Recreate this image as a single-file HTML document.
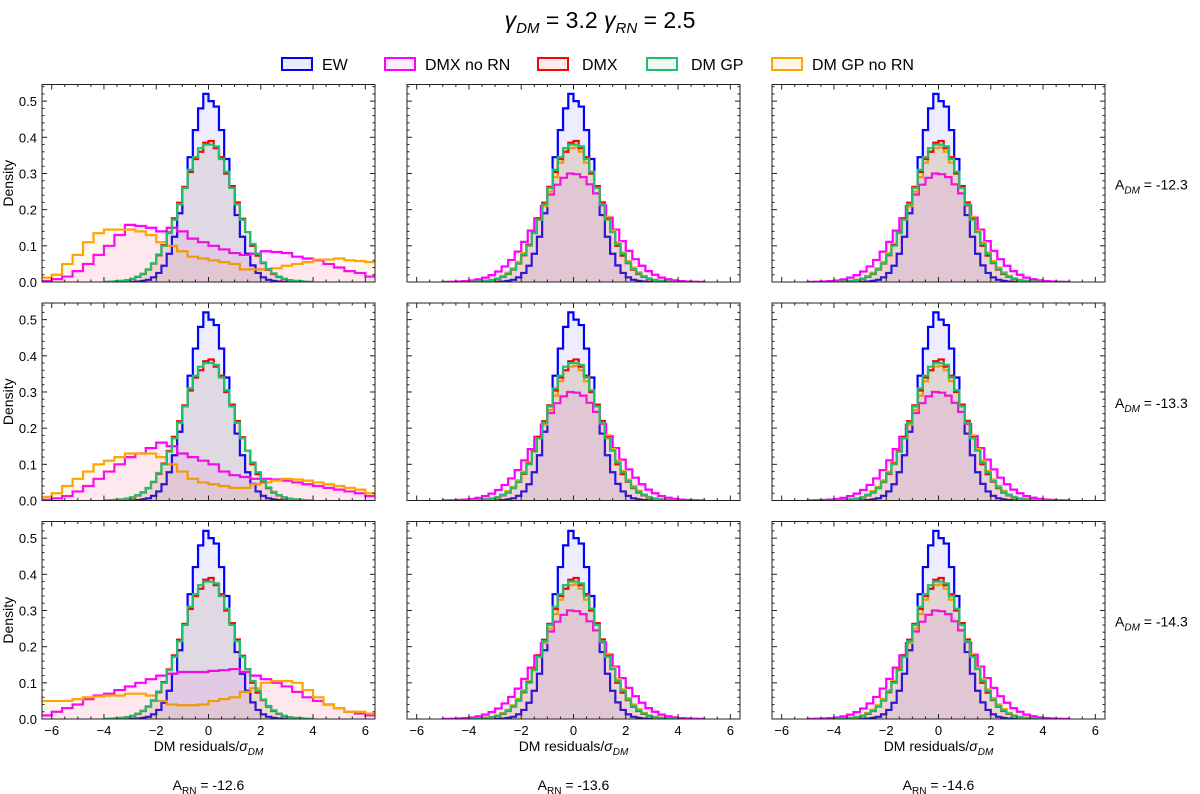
<!DOCTYPE html>
<html><head><meta charset="utf-8"><style>
body{margin:0;background:#fff;}
svg{display:block;font-family:"Liberation Sans","DejaVu Sans",sans-serif;}
</style></head><body>
<svg id="fig" width="1200" height="794" viewBox="0 0 1200 794" xmlns="http://www.w3.org/2000/svg">
<text x="600" y="28" text-anchor="middle" font-size="23"><tspan font-style="italic">γ</tspan><tspan font-size="15" dy="5" font-style="italic">DM</tspan><tspan dy="-5"> = 3.2  </tspan><tspan font-style="italic">γ</tspan><tspan font-size="15" dy="5" font-style="italic">RN</tspan><tspan dy="-5"> = 2.5</tspan></text>
<g id="legend"></g>
<g id="panels"></g>
</svg>
<script>
// ---- data ----
const seriesNames = ["EW","DMX no RN","DMX","DM GP","DM GP no RN"];
const seriesColors = ["#0000ff","#ff00ff","#ff0000","#1fbf6f","#ffa500"];
const rowLabels = ["-12.3","-13.3","-14.3"];
const colLabels = ["-12.6","-13.6","-14.6"];
const xTicks = [-6,-4,-2,0,2,4,6];
const yTicks = [0.0,0.1,0.2,0.3,0.4,0.5];
// EW: bins start -3, width 0.2
const ewStart = -3, ewWidth = 0.2;
const ewVals = [0,0.001,0.003,0.006,0.013,0.025,0.045,0.078,0.125,0.19,0.26,0.345,0.42,0.48,0.52,0.50,0.485,0.42,0.34,0.265,0.185,0.125,0.078,0.046,0.025,0.013,0.006,0.003,0.001,0];
// narrow gaussians: start -4, width 0.2
const gStart = -4, gWidth = 0.2;
const dmxVals = [0,0.001,0.0015,0.003,0.005,0.008,0.014,0.022,0.034,0.051,0.074,0.102,0.137,0.176,0.219,0.263,0.304,0.34,0.36,0.385,0.39,0.37,0.345,0.30,0.265,0.22,0.175,0.138,0.10,0.073,0.052,0.034,0.022,0.014,0.008,0.005,0.003,0.0015,0.001,0];
const dmgpVals = [0,0.001,0.002,0.003,0.005,0.009,0.015,0.023,0.035,0.052,0.076,0.10,0.135,0.172,0.215,0.26,0.31,0.345,0.37,0.38,0.38,0.375,0.34,0.305,0.26,0.215,0.172,0.138,0.105,0.078,0.054,0.036,0.024,0.015,0.009,0.005,0.003,0.002,0.001,0];
const gpnoVals = [0,0.001,0.002,0.004,0.006,0.010,0.017,0.026,0.038,0.056,0.08,0.105,0.138,0.172,0.21,0.25,0.29,0.33,0.36,0.37,0.372,0.36,0.33,0.30,0.26,0.22,0.18,0.142,0.11,0.082,0.058,0.04,0.027,0.017,0.010,0.006,0.004,0.002,0.001,0];
// wide magenta (central panels): start -5, width 0.25
const mStart = -5, mWidth = 0.25;
const magVals = [0.0003,0.0007,0.0014,0.0025,0.0043,0.0073,0.012,0.019,0.029,0.043,0.061,0.084,0.111,0.142,0.176,0.21,0.242,0.269,0.288,0.30,0.298,0.29,0.27,0.245,0.212,0.178,0.145,0.113,0.086,0.063,0.045,0.030,0.020,0.012,0.0075,0.0045,0.0026,0.0014,0.0007,0.0003];
// broad col-1 histograms: start -6.4, width 0.4
const bStart = -6.4, bWidth = 0.4;
const r1Mag = [.003,.008,.015,.03,.05,.075,.1,.13,.158,.155,.15,.14,.15,.14,.12,.11,.1,.09,.08,.075,.078,.085,.083,.08,.07,.065,.06,.05,.04,.03,.025,.015];
const r1Org = [.012,.02,.05,.075,.11,.135,.145,.145,.145,.14,.13,.11,.1,.085,.07,.065,.06,.055,.05,.035,.035,.035,.038,.045,.05,.055,.062,.062,.065,.06,.058,.055];
const r2Mag = [.002,.006,.012,.025,.04,.06,.08,.1,.12,.13,.145,.16,.15,.13,.12,.11,.1,.08,.07,.065,.06,.06,.058,.055,.05,.045,.04,.035,.03,.025,.02,.012];
const r2Org = [.01,.02,.04,.06,.08,.1,.11,.12,.13,.13,.13,.12,.1,.08,.06,.05,.045,.04,.035,.035,.045,.05,.055,.06,.058,.055,.05,.045,.04,.035,.03,.02];
const r3Mag = [.01,.02,.03,.04,.055,.065,.07,.08,.09,.1,.11,.12,.125,.13,.13,.13,.133,.135,.138,.13,.12,.11,.1,.09,.075,.06,.05,.04,.03,.02,.015,.01];
const r3Org = [.05,.05,.05,.055,.06,.062,.065,.065,.07,.07,.065,.05,.04,.038,.038,.04,.05,.055,.06,.075,.085,.1,.105,.105,.1,.08,.06,.04,.03,.02,.02,.015];

// ---- layout ----
const NS = "http://www.w3.org/2000/svg";
const colX = [42,407,772], pw = 333;
const rowY = [84.5,303,521.5], ph = 197.5;
const xmin=-6.37, xmax=6.37, ymin=0, ymax=0.546;
function el(tag, attrs, parent){const e=document.createElementNS(NS,tag);for(const k in attrs)e.setAttribute(k,attrs[k]);parent.appendChild(e);return e;}

// legend
const leg = document.getElementById('legend');
const legBox = [282,385,538,647,772];
const legTxt = [322,425,582,691,812];
seriesNames.forEach((n,i)=>{
  const g = el('g',{},leg);
  
  
  el('rect',{x:legBox[i],y:58,width:30,height:12,fill:seriesColors[i],'fill-opacity':0.08,stroke:seriesColors[i],'stroke-width':2},g);
  const t = el('text',{x:legTxt[i],y:70,'font-size':16},g); t.textContent=n;
});

const panels = document.getElementById('panels');
function panelSeries(r,c){
  const s = [];
  s.push({v:ewVals,st:ewStart,w:ewWidth,i:0});
  if(c===0){
    const m=[r1Mag,r2Mag,r3Mag][r], o=[r1Org,r2Org,r3Org][r];
    s.push({v:m,st:bStart,w:bWidth,i:1});
    s.push({v:o,st:bStart,w:bWidth,i:4});
  } else {
    s.push({v:magVals,st:mStart,w:mWidth,i:1});
    s.push({v:gpnoVals,st:gStart,w:gWidth,i:4});
  }
  s.push({v:dmxVals,st:gStart,w:gWidth,i:2});
  s.push({v:dmgpVals,st:gStart,w:gWidth,i:3});
  return s;
}
for(let r=0;r<3;r++)for(let c=0;c<3;c++){
  const x0=colX[c], y0=rowY[r];
  const g = el('g',{},panels);
  
  
  const sx = v=> x0+(v-xmin)/(xmax-xmin)*pw;
  const sy = v=> y0+ph-(v-ymin)/(ymax-ymin)*ph;
  const clipId='clip'+r+c;
  const cp = el('clipPath',{id:clipId},g); el('rect',{x:x0,y:y0,width:pw,height:ph},cp);
  const dg = el('g',{'clip-path':'url(#'+clipId+')'},g);
  panelSeries(r,c).forEach(s=>{
    let d='M'+sx(s.st)+','+sy(0);
    s.v.forEach((v,k)=>{const a=s.st+k*s.w,b=a+s.w;d+=' L'+sx(a)+','+sy(v)+' L'+sx(b)+','+sy(v);});
    d+=' L'+sx(s.st+s.v.length*s.w)+','+sy(0);
    const p = el('path',{d:d,fill:seriesColors[s.i],'fill-opacity':0.07,stroke:seriesColors[s.i],'stroke-width':2.2,'stroke-linejoin':'miter'},dg);
    
    
  });
  el('rect',{x:x0,y:y0,width:pw,height:ph,fill:'none',stroke:'#222','stroke-width':1},g);
  // ticks
  for(let t=-6;t<=6.01;t+=0.5){
    const major = Math.abs(t%2)<1e-6; const L = major?5:2.5; const X=sx(t);
    el('line',{x1:X,y1:y0+ph,x2:X,y2:y0+ph-L,stroke:'#222'},g);
    el('line',{x1:X,y1:y0,x2:X,y2:y0+L,stroke:'#222'},g);
  }
  for(let k=0;k<=27;k++){
    const t=k*0.02; const major=(k%5===0); const L=major?5:2.5; const Y=sy(t);
    el('line',{x1:x0,y1:Y,x2:x0+L,y2:Y,stroke:'#222'},g);
    el('line',{x1:x0+pw,y1:Y,x2:x0+pw-L,y2:Y,stroke:'#222'},g);
  }
  if(r===2){
    xTicks.forEach(t=>{const tx=el('text',{x:sx(t),y:y0+ph+16,'text-anchor':'middle','font-size':13},g);tx.textContent=(t<0?'−':'')+Math.abs(t);});
    const xl = el('text',{x:x0+pw/2,y:751,'text-anchor':'middle','font-size':14},g);
    
    
    xl.innerHTML='DM residuals/<tspan font-style="italic">σ</tspan><tspan font-size="10" dy="4" font-style="italic">DM</tspan>';
  }
  if(c===0){
    yTicks.forEach(t=>{const ty=el('text',{x:x0-5,y:sy(t)+5,'text-anchor':'end','font-size':13},g);ty.textContent=t.toFixed(1);});
    const yl = el('text',{x:0,y:0,'text-anchor':'middle','font-size':14,transform:'translate(13,'+(y0+ph/2)+') rotate(-90)'},g);
    
    
    yl.textContent='Density';
  }
  if(c===2){
    const rl = el('text',{x:1115,y:y0+ph/2+6,'font-size':14},g);
    
    
    rl.innerHTML='A<tspan font-size="10" dy="4" font-style="italic">DM</tspan><tspan dy="-4"> = '+rowLabels[r]+'</tspan>';
  }
  if(r===2){
    const cl = el('text',{x:x0+pw/2,y:790,'text-anchor':'middle','font-size':14},g);
    
    
    cl.innerHTML='A<tspan font-size="10" dy="4">RN</tspan><tspan dy="-4"> = '+colLabels[c]+'</tspan>';
  }
}
</script>
</body></html>
